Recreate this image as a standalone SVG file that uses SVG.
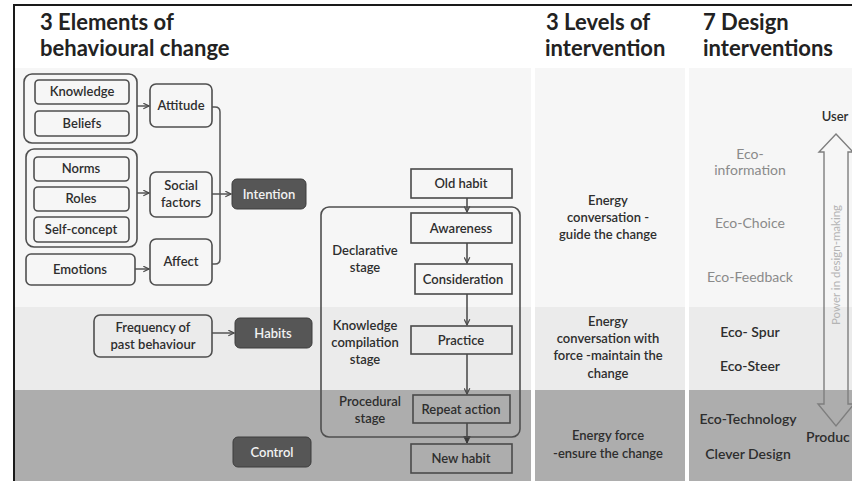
<svg xmlns="http://www.w3.org/2000/svg" width="852" height="481" viewBox="0 0 852 481">
  <defs>
    <marker id="arr" viewBox="0 0 8 8" refX="7" refY="4" markerWidth="7" markerHeight="7" markerUnits="userSpaceOnUse" orient="auto">
      <path d="M0.5,0.8 L7,4 L0.5,7.2" fill="none" stroke="#4a4a4a" stroke-width="1.4"/>
    </marker>
    <marker id="arrDown" viewBox="0 0 8 8" refX="7" refY="4" markerWidth="8" markerHeight="8" markerUnits="userSpaceOnUse" orient="auto">
      <path d="M0.5,0.8 L7,4 L0.5,7.2 Z" fill="#3a3a3a" stroke="#3a3a3a" stroke-width="1"/>
    </marker>
    <style>
      .hdr { font-family: Lato, "Open Sans", sans-serif; font-weight: bold; font-size: 22px; fill: #222; }
      .t { font-family: Lato, "Open Sans", sans-serif; font-weight: 600; font-size: 13px; fill: #2e2e2e; text-anchor: middle; }
      .tw { font-family: Lato, "Open Sans", sans-serif; font-weight: 600; font-size: 13px; fill: #f2f2f2; text-anchor: middle; }
      .tl { font-family: Lato, "Open Sans", sans-serif; font-size: 13px; fill: #8a8a8a; text-anchor: middle; }
      .eco { font-size: 14px; }
      .box { fill: none; stroke: #4f4f4f; stroke-width: 1.6; }
      .dark { fill: #565656; stroke: #3c3c3c; stroke-width: 1; }
      .sq { fill: none; stroke: #4a4a4a; stroke-width: 1.6; }
      .con { fill: none; stroke: #555; stroke-width: 1.5; }
      .flow { fill: none; stroke: #444; stroke-width: 1.5; }
    </style>
  </defs>

  <!-- background and bands -->
  <rect x="0" y="0" width="852" height="481" fill="#ffffff"/>
  <g id="bands">
    <rect x="15" y="68" width="516" height="239" fill="#f6f6f6"/>
    <rect x="535" y="68" width="150" height="239" fill="#f6f6f6"/>
    <rect x="689" y="68" width="163" height="239" fill="#f6f6f6"/>
    <rect x="15" y="307" width="516" height="83" fill="#ebebeb"/>
    <rect x="535" y="307" width="150" height="83" fill="#ebebeb"/>
    <rect x="689" y="307" width="163" height="83" fill="#ebebeb"/>
    <rect x="15" y="390" width="516" height="91" fill="#adadad"/>
    <rect x="535" y="390" width="150" height="91" fill="#adadad"/>
    <rect x="689" y="390" width="163" height="91" fill="#adadad"/>
  </g>
  <path d="M14,481 V5 H852" fill="none" stroke="#1a1a1a" stroke-width="2"/>

  <!-- column headings -->
  <g id="headings">
    <text class="hdr" x="40" y="30">3 Elements of</text>
    <text class="hdr" x="40" y="56">behavioural change</text>
    <text class="hdr" x="546" y="30">3 Levels of</text>
    <text class="hdr" x="545" y="56">intervention</text>
    <text class="hdr" x="703" y="30">7 Design</text>
    <text class="hdr" x="703" y="56">interventions</text>
  </g>

  <!-- connectors -->
  <g id="connectors">
    <path class="con" d="M137,106 H149" marker-end="url(#arr)"/>
    <path class="con" d="M137,193 H149" marker-end="url(#arr)"/>
    <path class="con" d="M135,269 H149" marker-end="url(#arr)"/>
    <path class="con" d="M212,107 H215 Q220,107 220,112 V259 Q220,264 215,264 H212"/>
    <path class="con" d="M212,194 H231" marker-end="url(#arr)"/>
    <path class="con" d="M212,333 H234" marker-end="url(#arr)"/>
    <path class="flow" d="M467,198 V212" marker-end="url(#arr)"/>
    <path class="flow" d="M467,243 V263" marker-end="url(#arr)"/>
    <path class="flow" d="M467,294 V325" marker-end="url(#arr)"/>
    <path class="flow" d="M467,354 V394" marker-end="url(#arr)"/>
    <path class="flow" d="M467,423 V443" stroke="#222" stroke-width="2" marker-end="url(#arrDown)"/>
  </g>

  <!-- elements of behavioural change -->
  <g id="group-knowledge-beliefs"><rect class="box" x="24" y="74" width="113" height="69" rx="8"/></g>
  <g id="knowledge"><rect class="box" x="35" y="80" width="94" height="24" rx="4"/><text class="t" x="82" y="96">Knowledge</text></g>
  <g id="beliefs"><rect class="box" x="35" y="111" width="94" height="25" rx="4"/><text class="t" x="82" y="128">Beliefs</text></g>
  <g id="attitude"><rect class="box" x="150" y="84" width="62" height="43" rx="6"/><text class="t" x="181" y="110">Attitude</text></g>

  <g id="group-norms-roles"><rect class="box" x="26" y="149" width="111" height="98" rx="8"/></g>
  <g id="norms"><rect class="box" x="34" y="157" width="95" height="24" rx="4"/><text class="t" x="81" y="173">Norms</text></g>
  <g id="roles"><rect class="box" x="34" y="187" width="95" height="24" rx="4"/><text class="t" x="81" y="203">Roles</text></g>
  <g id="self-concept"><rect class="box" x="34" y="217" width="95" height="25" rx="4"/><text class="t" x="81" y="234">Self-concept</text></g>
  <g id="social-factors"><rect class="box" x="150" y="172" width="62" height="45" rx="6"/><text class="t" x="181" y="190">Social</text><text class="t" x="181" y="207">factors</text></g>

  <g id="emotions"><rect class="box" x="26" y="254" width="109" height="31" rx="5"/><text class="t" x="80" y="274">Emotions</text></g>
  <g id="affect"><rect class="box" x="150" y="239" width="62" height="46" rx="6"/><text class="t" x="181" y="266">Affect</text></g>

  <g id="intention"><rect class="dark" x="232" y="179" width="74" height="30" rx="5"/><text class="tw" x="269" y="199">Intention</text></g>

  <g id="frequency"><rect class="box" x="94" y="315" width="118" height="42" rx="6"/><text class="t" x="153" y="332">Frequency of</text><text class="t" x="153" y="349">past behaviour</text></g>
  <g id="habits"><rect class="dark" x="235" y="318" width="77" height="30" rx="5"/><text class="tw" x="273" y="338">Habits</text></g>
  <g id="control"><rect class="dark" x="233" y="437" width="78" height="30" rx="5"/><text class="tw" x="272" y="457">Control</text></g>

  <!-- habit formation stages -->
  <g id="stages">
    <rect class="box" x="321" y="207" width="199" height="230" rx="8"/>
    <text class="t" x="365" y="255">Declarative</text>
    <text class="t" x="365" y="272">stage</text>
    <text class="t" x="365" y="330">Knowledge</text>
    <text class="t" x="365" y="347">compilation</text>
    <text class="t" x="365" y="364">stage</text>
    <text class="t" x="370" y="406">Procedural</text>
    <text class="t" x="370" y="423">stage</text>
  </g>
  <g id="old-habit"><rect class="sq" x="411" y="169" width="101" height="29"/><text class="t" x="461" y="188">Old habit</text></g>
  <g id="awareness"><rect class="sq" x="411" y="213" width="101" height="30"/><text class="t" x="461" y="233">Awareness</text></g>
  <g id="consideration"><rect class="sq" x="415" y="264" width="97" height="30"/><text class="t" x="463" y="284">Consideration</text></g>
  <g id="practice"><rect class="sq" x="411" y="326" width="101" height="28"/><text class="t" x="461" y="345">Practice</text></g>
  <g id="repeat-action"><rect class="sq" x="413" y="395" width="97" height="28"/><text class="t" x="461" y="414">Repeat action</text></g>
  <g id="new-habit"><rect class="sq" x="411" y="444" width="101" height="29"/><text class="t" x="461" y="463">New habit</text></g>

  <!-- levels of intervention -->
  <g id="level-guide">
    <text class="t" x="608" y="205">Energy</text>
    <text class="t" x="608" y="222">conversation -</text>
    <text class="t" x="608" y="239">guide the change</text>
  </g>
  <g id="level-maintain">
    <text class="t" x="608" y="326">Energy</text>
    <text class="t" x="608" y="343">conversation with</text>
    <text class="t" x="608" y="360">force -maintain the</text>
    <text class="t" x="608" y="378">change</text>
  </g>
  <g id="level-ensure">
    <text class="t" x="608" y="440">Energy force</text>
    <text class="t" x="608" y="458">-ensure the change</text>
  </g>

  <!-- design interventions -->
  <g id="interventions">
    <text class="tl eco" x="750" y="159">Eco-</text>
    <text class="tl eco" x="750" y="175">information</text>
    <text class="tl eco" x="750" y="228">Eco-Choice</text>
    <text class="tl eco" x="750" y="282">Eco-Feedback</text>
    <text class="t eco" x="750" y="337">Eco- Spur</text>
    <text class="t eco" x="750" y="371">Eco-Steer</text>
    <text class="t eco" x="748" y="424">Eco-Technology</text>
    <text class="t eco" x="748" y="459">Clever Design</text>
  </g>

  <!-- power in design-making scale -->
  <g id="power-scale">
    <text class="t" x="835" y="121">User</text>
    <path d="M836,134 L853,152 H848 V404 H854 L836,426 L818,404 H824 V152 H819 Z" fill="none" stroke="#7e7e7e" stroke-width="1.4"/>
    <text class="tl" transform="translate(840,265) rotate(-90)" style="font-size:11.5px;fill:#b4b4b4">Power in design-making</text>
    <text class="t eco" x="806" y="442" style="text-anchor:start">Produc</text>
  </g>
</svg>
